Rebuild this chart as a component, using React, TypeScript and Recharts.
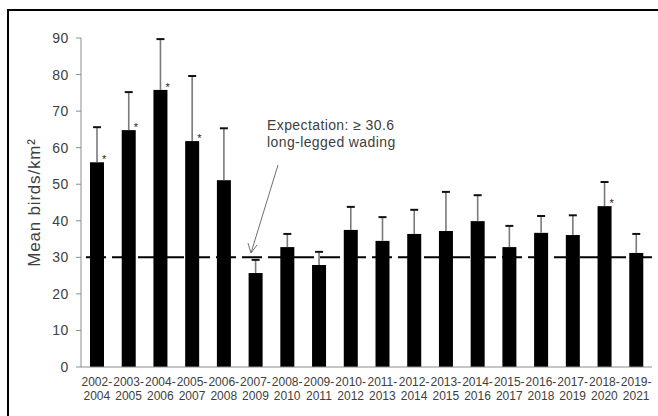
import { Bar, BarChart, ReferenceLine, XAxis, YAxis } from "recharts"

const periods = [
  "2002-2004", "2003-2005", "2004-2006", "2005-2007", "2006-2008", "2007-2009",
  "2008-2010", "2009-2011", "2010-2012", "2011-2013", "2012-2014", "2013-2015",
  "2014-2016", "2015-2017", "2016-2018", "2017-2019", "2018-2020", "2019-2021",
]
const means = [56, 64.8, 75.8, 61.8, 51.1, 25.7, 32.8, 27.9, 37.5, 34.5, 36.4, 37.2, 39.9, 32.8, 36.7, 36.1, 44.0, 31.2]
const upperErr = [9.6, 10.4, 13.9, 17.8, 14.2, 3.6, 3.6, 3.6, 6.3, 6.5, 6.6, 10.7, 7.1, 5.8, 4.6, 5.4, 6.6, 5.2]
const significant = [true, true, true, true, false, false, false, false, false, false, false, false, false, false, false, false, true, false]
const yTicks = [0, 10, 20, 30, 40, 50, 60, 70, 80, 90]
const expectation = 30

const data = periods.map((p, i) => ({
  period: p,
  mean: means[i],
  err: upperErr[i],
  sig: significant[i],
}))

// category boundaries for the x tick marks (0 .. n)
const boundaries = [...periods.map((_, i) => i), periods.length]

const textColor = "#404040"
const axisColor = "#8c8c8c"

function BarWithError(props: any) {
  const { x, y, width, height, payload } = props
  const cx = x + width / 2
  const perUnit = payload.mean ? height / payload.mean : 0
  const top = y - payload.err * perUnit
  return (
    <g>
      <rect x={x} y={y} width={width} height={height} fill="#000" />
      <line x1={cx} y1={y} x2={cx} y2={top} stroke="#7a7a7a" strokeWidth={1.6} />
      <line x1={cx - 4} y1={top} x2={cx + 4} y2={top} stroke="#111" strokeWidth={2} />
      {payload.sig && (
        <text x={cx + 5} y={y + 1} fontSize={11} fill="#222" fontFamily="Liberation Sans, Arial">
          *
        </text>
      )}
    </g>
  )
}

function PeriodTick(props: any) {
  const { x, y, payload } = props
  const [a, b] = payload.value.split("-")
  return (
    <text x={x} textAnchor="middle" fontSize={12} fill={textColor} fontFamily="Liberation Sans, Arial">
      <tspan x={x} y={y + 11}>{a + "-"}</tspan>
      <tspan x={x} y={y + 25}>{b}</tspan>
    </text>
  )
}

function YLabel(props: any) {
  const { viewBox } = props
  const cx = 34
  const cy = viewBox.y + viewBox.height / 2
  return (
    <text
      x={cx}
      y={cy}
      transform={`rotate(-90 ${cx} ${cy})`}
      textAnchor="middle"
      dominantBaseline="central"
      fontSize={17}
      letterSpacing={0.8}
      fill={textColor}
      fontFamily="Liberation Sans, Arial"
    >
      Mean birds/km²
    </text>
  )
}

export default function App() {
  return (
    <div style={{ position: "absolute", left: 0, top: 0, width: 658, height: 416, overflow: "hidden", background: "#fff" }}>
      <div
        style={{
          position: "absolute",
          left: 7,
          top: 9,
          width: 700,
          height: 500,
          border: "2px solid #000",
        }}
      />
      <div style={{ position: "absolute", left: 0, top: 0 }}>
        <BarChart
          width={658}
          height={416}
          data={data}
          margin={{ top: 38, right: 6, bottom: 0, left: 0 }}
          barSize={14}
        >
          <XAxis
            dataKey="period"
            xAxisId="top"
            orientation="top"
            height={0}
            tick={false}
            tickLine={false}
            axisLine={{ stroke: axisColor }}
          />
          <YAxis
            yAxisId="right"
            orientation="right"
            width={0}
            domain={[0, 90]}
            tick={false}
            tickLine={false}
            axisLine={{ stroke: axisColor }}
          />
          <XAxis
            xAxisId="bounds"
            type="number"
            domain={[0, periods.length]}
            ticks={boundaries}
            interval={0}
            height={0}
            tick={false}
            tickSize={5}
            tickLine={{ stroke: axisColor }}
            axisLine={false}
          />
          <XAxis
            dataKey="period"
            height={49}
            interval={0}
            tickLine={false}
            axisLine={{ stroke: axisColor }}
            tick={<PeriodTick />}
          />
          <YAxis
            width={81}
            domain={[0, 90]}
            ticks={yTicks}
            interval={0}
            tickSize={5}
            tickMargin={7}
            tickLine={{ stroke: axisColor }}
            axisLine={{ stroke: axisColor }}
            tick={{ fontSize: 14, fill: textColor, fontFamily: "Liberation Sans, Arial", letterSpacing: 0.6 }}
            label={<YLabel />}
          />
          <Bar dataKey="mean" shape={<BarWithError />} isAnimationActive={false} />
          <ReferenceLine
            y={expectation}
            stroke="#000"
            strokeWidth={2}
            strokeDasharray="20 6"
            strokeDashoffset={-5}
          />
        </BarChart>
      </div>
      <svg style={{ position: "absolute", left: 0, top: 0 }} width={658} height={416}>
        <text x={267} y={130} fontSize={14} letterSpacing={0.4} fill={textColor} fontFamily="Liberation Sans, Arial">
          Expectation: ≥ 30.6
        </text>
        <text x={267} y={147} fontSize={14} letterSpacing={0.4} fill={textColor} fontFamily="Liberation Sans, Arial">
          long-legged wading
        </text>
        <line x1={278} y1={165} x2={251} y2={253} stroke="#707070" strokeWidth={1} />
        <polyline points="248,243 251,253 257,245" fill="none" stroke="#707070" strokeWidth={1} />
      </svg>
    </div>
  )
}
